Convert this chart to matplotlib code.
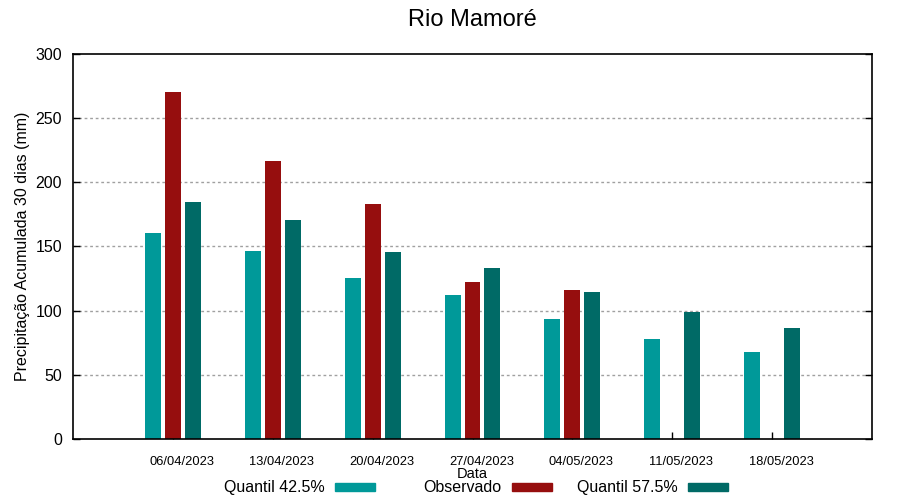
import matplotlib
matplotlib.use("Agg")
import matplotlib.pyplot as plt
import matplotlib.transforms as mtransforms
from matplotlib.patches import Rectangle
import numpy as np

plt.rcParams['font.family'] = ['Liberation Sans', 'DejaVu Sans']

dates = ["06/04/2023", "13/04/2023", "20/04/2023", "27/04/2023",
         "04/05/2023", "11/05/2023", "18/05/2023"]
series_names = ["Quantil 42.5%", "Observado", "Quantil 57.5%"]
q425 = [160.5, 146.5, 125.5, 112.2, 93.5, 77.9, 67.8]
observado = [270.4, 216.6, 183.1, 122.3, 116.1, np.nan, np.nan]
q575 = [184.7, 170.6, 145.7, 133.2, 114.5, 99.0, 86.5]
colors = ["#009999", "#960e0e", "#006a66"]
yticks = [0, 50, 100, 150, 200, 250, 300]

W, H = 900, 500
fig = plt.figure(figsize=(9, 5), dpi=100)
ax = fig.add_axes([73 / W, 1 - 439 / H, (872 - 73) / W, (439 - 54) / H])

x = np.arange(1, len(dates) + 1)
bw = 0.16
offsets = [-0.2, 0.0, 0.2]
for vals, off, c in zip([q425, observado, q575], offsets, colors):
    ax.bar(x + off, vals, width=bw, color=c, zorder=2)

ax.set_xlim(0, 8)
ax.set_ylim(0, 300)
ax.set_yticks(yticks)
ax.set_yticklabels([str(v) for v in yticks], fontsize=11.5)
ax.set_xticks(x)
ax.set_xticklabels(dates, fontsize=9.3)
ax.tick_params(axis='both', direction='in', length=5, width=1, color='black')
ax.tick_params(axis='y', right=True, pad=8)
ax.tick_params(axis='x', pad=12)
off = mtransforms.ScaledTranslation(9 / 100, 0, fig.dpi_scale_trans)
for lab in ax.get_xticklabels():
    lab.set_transform(lab.get_transform() + off)

for v in yticks[1:-1]:
    ax.axhline(v, color='#a0a0a0', lw=1, linestyle=(0, (2, 2)), zorder=1)

for s in ax.spines.values():
    s.set_linewidth(1.2)
    s.set_color('black')

ax.set_ylabel("Precipitação Acumulada 30 dias (mm)", fontsize=11.5, labelpad=4)
fig.text(472.5 / W, 1 - 474 / H, "Data", ha='center', va='center', fontsize=10.5)
fig.text(472 / W, 1 - 20 / H, "Rio Mamoré", ha='center', va='center', fontsize=17)

# legend (gnuplot style: text then sample)
for i, (name, c) in enumerate(zip(series_names, colors)):
    x_end = 375 + 176.5 * i
    x0 = x_end - 40
    fig.patches.append(Rectangle((x0 / W, 1 - 491 / H), 40 / W, 8 / H,
                                 transform=fig.transFigure, color=c))
    fig.text((x0 - 10) / W, 1 - 487.5 / H, name, ha='right', va='center', fontsize=11.5)

fig.savefig("out.png", dpi=100)
